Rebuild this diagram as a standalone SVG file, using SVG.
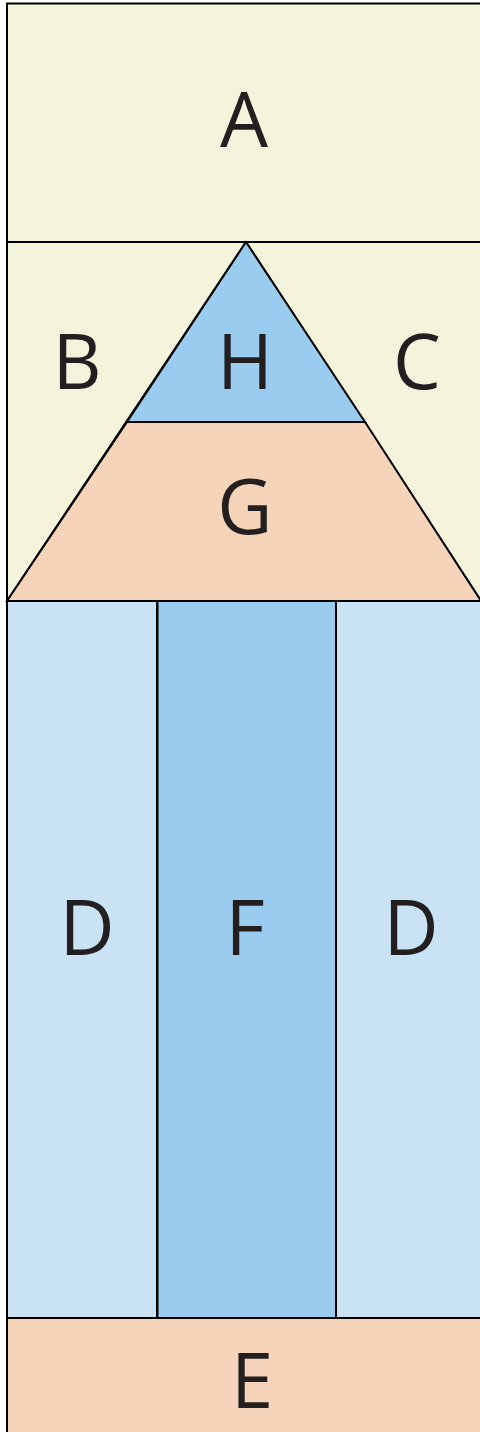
<svg xmlns="http://www.w3.org/2000/svg" width="480" height="1432" viewBox="0 0 480 1432">
<style>
.s{stroke:#000;stroke-width:2;stroke-linejoin:miter}
.beige{fill:#f4f4dc}
.peach{fill:#f6d4b9}
.blue{fill:#99ccee}
.lblue{fill:#c9e3f5}
text{font-family:"Open Sans","Noto Sans",sans-serif;font-size:76px;fill:#231f20;text-anchor:middle}
</style>
<rect width="480" height="1432" fill="#ffffff"/>
<g id="A"><rect class="beige s" x="7" y="3.5" width="480" height="238.5"/><text x="244" y="147">A</text></g>
<g id="B"><polygon class="beige s" points="7,242 246,242 7,601"/><text x="77" y="389">B</text></g>
<g id="C"><polygon class="beige s" points="246,242 487,242 487,601 481,601"/><text x="417" y="389">C</text></g>
<g id="H"><polygon class="blue s" points="246,242 365,422 127,422"/><text x="245" y="389">H</text></g>
<g id="G"><polygon class="peach s" points="127,422 365,422 481,601 7,601"/><text x="245" y="534">G</text></g>
<g id="D1"><rect class="lblue s" x="7" y="601" width="150" height="717"/><text x="87" y="955">D</text></g>
<g id="F"><rect class="blue s" x="157" y="601" width="179" height="717"/><text x="245" y="955">F</text></g>
<g id="D2"><rect class="lblue s" x="336" y="601" width="150" height="717"/><text x="411" y="955">D</text></g>
<g id="E"><rect class="peach s" x="7" y="1318" width="480" height="120"/><text x="252" y="1408">E</text></g>
<g id="connectors"><line class="s" x1="157.5" y1="601" x2="157.5" y2="1318" stroke-width="3"/></g>
</svg>
